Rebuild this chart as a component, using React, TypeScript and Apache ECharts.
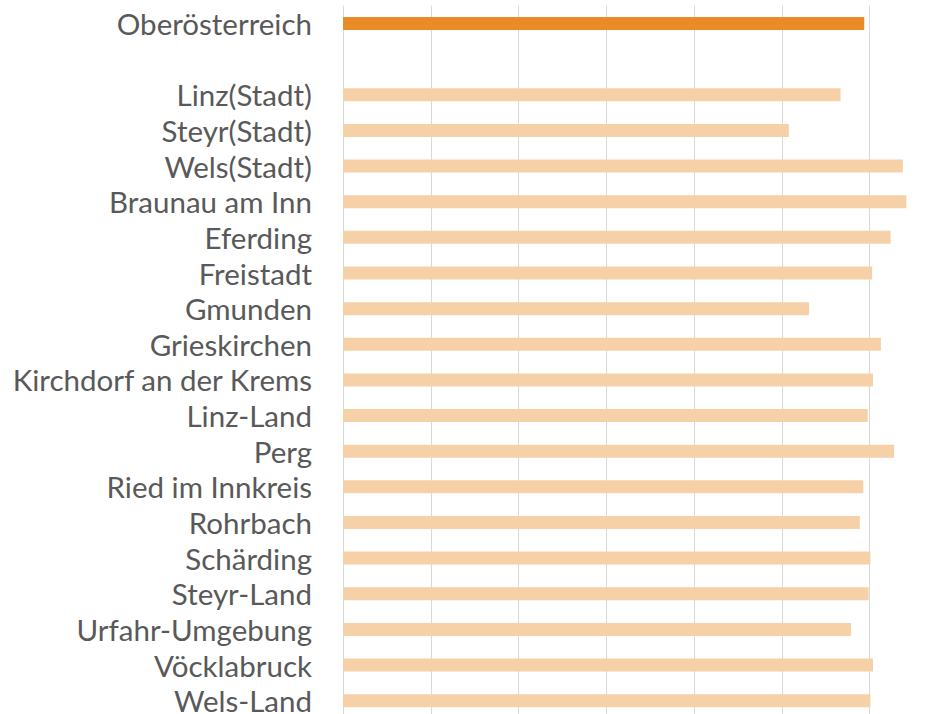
import React, { useEffect, useRef } from "react";
import * as echarts from "echarts";

const categories = [
  "Oberösterreich",
  "",
  "Linz(Stadt)",
  "Steyr(Stadt)",
  "Wels(Stadt)",
  "Braunau am Inn",
  "Eferding",
  "Freistadt",
  "Gmunden",
  "Grieskirchen",
  "Kirchdorf an der Krems",
  "Linz-Land",
  "Perg",
  "Ried im Innkreis",
  "Rohrbach",
  "Schärding",
  "Steyr-Land",
  "Urfahr-Umgebung",
  "Vöcklabruck",
  "Wels-Land",
];

const values: (number | null)[] = [
  5.94, null, 5.67, 5.08, 6.38, 6.42, 6.24, 6.03, 5.31, 6.13, 6.04, 5.98, 6.28,
  5.93, 5.89, 6.01, 5.99, 5.79, 6.04, 6.01,
];

const highlighted = ["Oberösterreich"];

const axisMin = 0;
const axisMax = 7;
const axisInterval = 1;

const ORANGE = "#E98B26";
const LIGHT = "#F6D1A7";

export default function App() {
  const ref = useRef<HTMLDivElement>(null);

  useEffect(() => {
    if (!ref.current) return;
    const chart = echarts.init(ref.current, undefined, { renderer: "svg" });
    chart.setOption({
      animation: false,
      backgroundColor: "#ffffff",
      grid: { left: 343, top: 5.7, width: 614.25, height: 712.8, containLabel: false },
      xAxis: {
        type: "value",
        min: axisMin,
        max: axisMax,
        interval: axisInterval,
        axisLabel: { show: false },
        axisLine: { show: false },
        axisTick: { show: false },
        splitLine: { show: true, lineStyle: { color: "#d9d9d9", width: 1 } },
      },
      yAxis: {
        type: "category",
        inverse: true,
        data: categories,
        axisLine: { show: false },
        axisTick: { show: false },
        axisLabel: {
          color: "#595959",
          fontSize: 29.5,
          lineHeight: 25,
          padding: [0, 0, 4, 0],
          fontFamily: "Lato",
          margin: 31,
          interval: 0,
        },
      },
      series: [
        {
          type: "bar",
          barWidth: 13,
          data: values.map((v, i) => ({
            value: v,
            itemStyle: {
              color: highlighted.includes(categories[i]) ? ORANGE : LIGHT,
            },
          })),
        },
      ],
    });
    return () => chart.dispose();
  }, []);

  return (
    <div
      style={{
        position: "absolute",
        left: 0,
        top: 0,
        width: 943,
        height: 714,
        overflow: "hidden",
        background: "#ffffff",
      }}
    >
      <div ref={ref} style={{ width: 959, height: 720 }} />
    </div>
  );
}
